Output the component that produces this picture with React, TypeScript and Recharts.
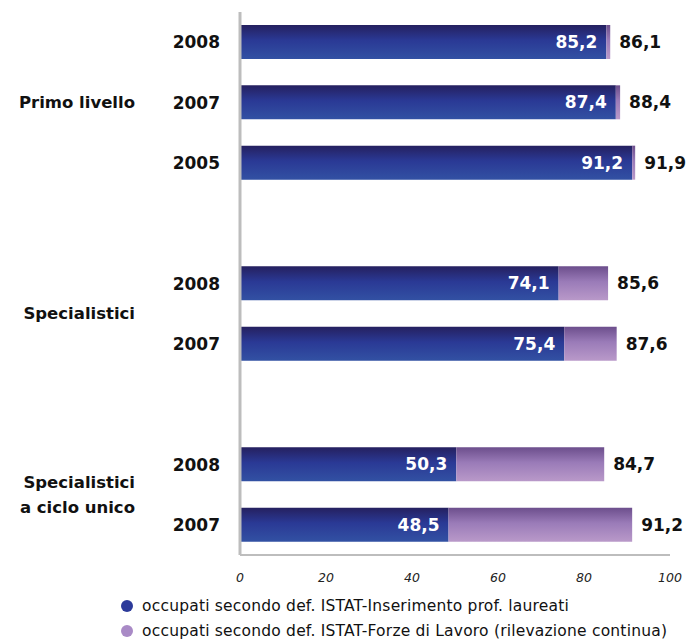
import { BarChart, Bar, XAxis, YAxis, LabelList } from "recharts"

const years = ["2008", "2007", "2005", "", "2008", "2007", "", "2008", "2007"]
const groups = [
  "Primo livello",
  "Primo livello",
  "Primo livello",
  "",
  "Specialistici",
  "Specialistici",
  "",
  "Specialistici\na ciclo unico",
  "Specialistici\na ciclo unico"
]
const inserimento = [85.2, 87.4, 91.2, null, 74.1, 75.4, null, 50.3, 48.5]
const forzeLavoro = [86.1, 88.4, 91.9, null, 85.6, 87.6, null, 84.7, 91.2]
const xTicks = [0, 20, 40, 60, 80, 100]

const legendItems = [
  { label: "occupati secondo def. ISTAT-Inserimento prof. laureati", color: "#2c3a9a" },
  { label: "occupati secondo def. ISTAT-Forze di Lavoro (rilevazione continua)", color: "#a98ac6" }
]

const W = 680
const H = 582
const MARGIN = { top: 4, right: 18, left: 0, bottom: 0 }
const X_AXIS_H = 35
const BAND = (H - MARGIN.top - MARGIN.bottom - X_AXIS_H) / years.length
const FONT = "'DejaVu Sans', Verdana, sans-serif"

const rows = years.map((y, i) => ({
  key: `r${i}`,
  year: y,
  group: groups[i],
  base: inserimento[i],
  extra: inserimento[i] != null && forzeLavoro[i] != null ? +(forzeLavoro[i]! - inserimento[i]!).toFixed(1) : null,
  total: forzeLavoro[i]
}))

const fmt = (v: number | null | undefined) => (v == null ? "" : v.toFixed(1).replace(".", ","))

function YearTick(props: any) {
  const { y, index } = props
  const row = rows[index]
  if (!row) return null
  const group = row.group
  const isFirst = group && (index === 0 || rows[index - 1].group !== group)
  let groupLabel = null
  if (isFirst) {
    const n = rows.filter((r) => r.group === group).length
    const cy = y + ((n - 1) / 2) * BAND
    const lines = group.split("\n")
    groupLabel = (
      <text x={127} y={cy} textAnchor="end" fontFamily={FONT} fontSize={16.5} fontWeight={700} fill="#111">
        {lines.map((l: string, k: number) => (
          <tspan key={k} x={127} dy={k === 0 ? `${0.35 - (lines.length - 1) * 0.78}em` : "1.56em"}>
            {l}
          </tspan>
        ))}
      </text>
    )
  }
  return (
    <g>
      {row.year && (
        <text x={212} y={y} dy="0.36em" textAnchor="end" fontFamily={FONT} fontSize={17} fontWeight={700} fill="#111">
          {row.year}
        </text>
      )}
      {groupLabel}
    </g>
  )
}

function TotalLabel(props: any) {
  const { x, y, width, height, value } = props
  if (value == null) return null
  return (
    <text x={x + width + 9} y={y + height / 2} dy="0.36em" fontFamily={FONT} fontSize={17} fontWeight={700} fill="#111">
      {fmt(value)}
    </text>
  )
}

function BaseLabel(props: any) {
  const { x, y, width, height, value } = props
  if (value == null) return null
  return (
    <text x={x + width - 9} y={y + height / 2} dy="0.36em" textAnchor="end" fontFamily={FONT} fontSize={17} fontWeight={700} fill="#fff">
      {fmt(value)}
    </text>
  )
}

export default function App() {
  return (
    <div
      style={{
        width: 688,
        height: 639,
        padding: "8px 0 0 8px",
        boxSizing: "border-box",
        overflow: "hidden",
        fontFamily: FONT
      }}
    >
      <style>{"body{margin:0}"}</style>
      <BarChart width={W} height={H} data={rows} layout="vertical" margin={MARGIN} barSize={34}>
        <defs>
          <linearGradient id="gBlue" x1="0" y1="0" x2="0" y2="1">
            <stop offset="0%" stopColor="#25205f" />
            <stop offset="45%" stopColor="#2a3995" />
            <stop offset="100%" stopColor="#3251a3" />
          </linearGradient>
          <linearGradient id="gPurple" x1="0" y1="0" x2="0" y2="1">
            <stop offset="0%" stopColor="#6c4e8c" />
            <stop offset="45%" stopColor="#9a7bb8" />
            <stop offset="100%" stopColor="#b999c9" />
          </linearGradient>
        </defs>
        <XAxis
          type="number"
          domain={[0, 100]}
          ticks={xTicks}
          height={X_AXIS_H}
          axisLine={{ stroke: "#bdbdbd", strokeWidth: 2 }}
          tickLine={false}
          tickMargin={12}
          tick={{ fontFamily: FONT, fontSize: 12.5, fontStyle: "italic", fill: "#222" }}
        />
        <YAxis
          type="category"
          dataKey="key"
          width={232}
          axisLine={{ stroke: "#bdbdbd", strokeWidth: 3 }}
          tickLine={false}
          tick={<YearTick />}
          interval={0}
        />
        <Bar dataKey="base" stackId="a" fill="url(#gBlue)" isAnimationActive={false}>
          <LabelList dataKey="base" content={<BaseLabel />} />
        </Bar>
        <Bar dataKey="extra" stackId="a" fill="url(#gPurple)" isAnimationActive={false}>
          <LabelList dataKey="total" content={<TotalLabel />} />
        </Bar>
      </BarChart>
      <div style={{ paddingLeft: 110, paddingTop: 3, fontSize: 15.5, letterSpacing: 0.2, color: "#111" }}>
        {legendItems.map((it) => (
          <div key={it.label} style={{ display: "flex", alignItems: "center", height: 25, whiteSpace: "nowrap" }}>
            <span
              style={{ width: 12, height: 12, borderRadius: 6, background: it.color, marginRight: 9, marginLeft: 3, flexShrink: 0 }}
            />
            {it.label}
          </div>
        ))}
      </div>
    </div>
  )
}
